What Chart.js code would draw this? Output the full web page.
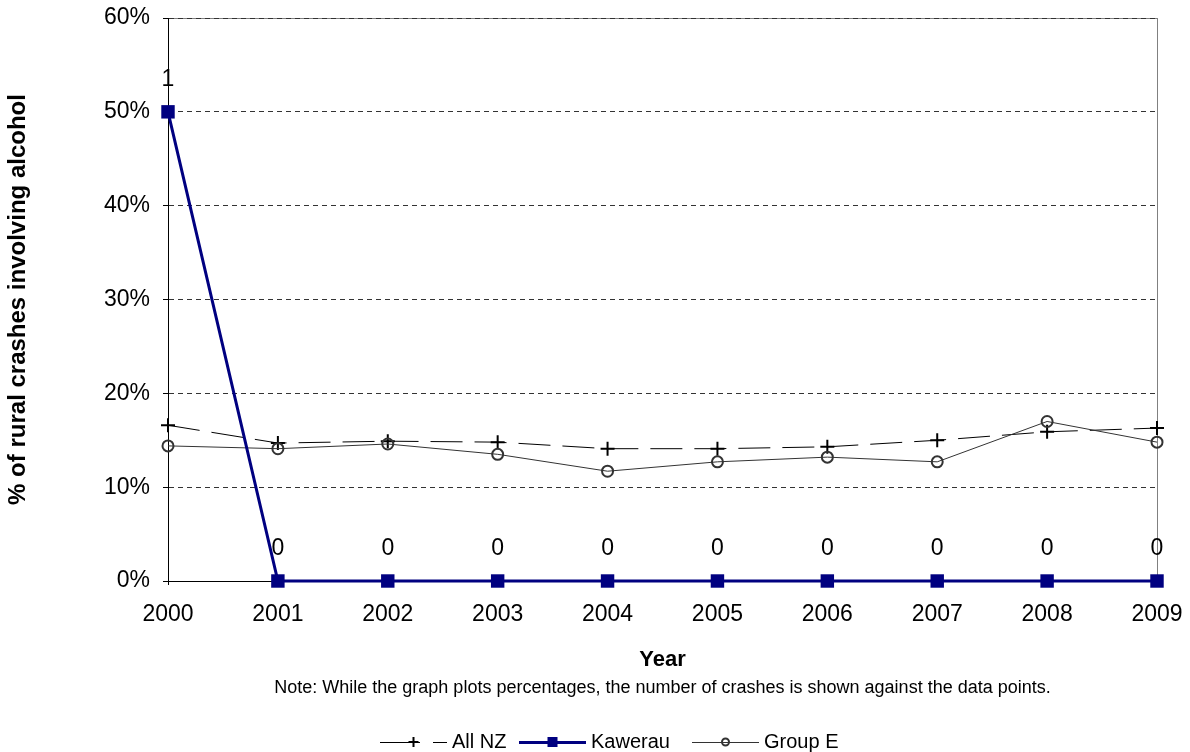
<!DOCTYPE html>
<html lang="en">
<head>
    <meta charset="UTF-8">
    <title>Rural crashes involving alcohol</title>
    <style>
        body {
            margin: 0;
            padding: 0;
            background-color: #ffffff;
        }
        canvas {
            display: block;
        }
    </style>
</head>
<body>
    <canvas id="myChart" width="1190" height="752"></canvas>

    <script src="https://cdn.jsdelivr.net/npm/chart.js"></script>
    <script>
        // Data
        const years = ['2000', '2001', '2002', '2003', '2004', '2005', '2006', '2007', '2008', '2009'];
        const allNZ = [16.6, 14.7, 14.9, 14.8, 14.1, 14.1, 14.3, 15.0, 15.9, 16.3];
        const kawerau = [50, 0, 0, 0, 0, 0, 0, 0, 0, 0];
        const groupE = [14.4, 14.1, 14.6, 13.5, 11.7, 12.7, 13.2, 12.7, 17.0, 14.8];
        const kawerauCounts = [1, 0, 0, 0, 0, 0, 0, 0, 0, 0];
        const yTicks = [0, 10, 20, 30, 40, 50, 60];

        const FONT = "'Liberation Sans', Arial, sans-serif";
        const NAVY = '#000080';

        // grey frame around the plot area
        const frame = {
            id: 'frame',
            beforeDraw(chart) {
                const { ctx, chartArea: a } = chart;
                ctx.save();
                ctx.strokeStyle = '#808080';
                ctx.lineWidth = 1;
                ctx.strokeRect(a.left + 0.5, a.top + 0.5, a.right - a.left, a.bottom - a.top);
                ctx.restore();
            }
        };

        // crash counts above the Kawerau points
        const counts = {
            id: 'counts',
            afterDatasetsDraw(chart) {
                const { ctx } = chart;
                const meta = chart.getDatasetMeta(1);
                ctx.save();
                ctx.font = '23px ' + FONT;
                ctx.fillStyle = '#000';
                ctx.textAlign = 'center';
                ctx.textBaseline = 'middle';
                meta.data.forEach((pt, i) => {
                    ctx.fillText(String(kawerauCounts[i]), pt.x, pt.y - 32);
                });
                ctx.restore();
            }
        };

        function drawMarker(ctx, style, x, y) {
            ctx.save();
            if (style === 'cross') {
                ctx.strokeStyle = '#000';
                ctx.lineWidth = 2;
                ctx.beginPath();
                ctx.moveTo(x - 5, y); ctx.lineTo(x + 5, y);
                ctx.moveTo(x, y - 5); ctx.lineTo(x, y + 5);
                ctx.stroke();
            } else if (style === 'rect') {
                ctx.fillStyle = NAVY;
                ctx.fillRect(x - 5, y - 5, 10, 10);
            } else {
                ctx.strokeStyle = '#333';
                ctx.lineWidth = 2;
                ctx.beginPath();
                ctx.arc(x, y, 3.5, 0, Math.PI * 2);
                ctx.stroke();
            }
            ctx.restore();
        }

        // note and legend below the axis title
        const footer = {
            id: 'footer',
            afterDraw(chart) {
                const { ctx, chartArea: a } = chart;
                ctx.save();
                ctx.fillStyle = '#000';
                ctx.font = '18px ' + FONT;
                ctx.textAlign = 'center';
                ctx.textBaseline = 'middle';
                ctx.fillText('Note: While the graph plots percentages, the number of crashes is shown against the data points.',
                    (a.left + a.right) / 2, 688);

                const y = 742;
                const starts = [380, 519, 692];
                const w = 67;
                ctx.font = '20px ' + FONT;
                ctx.textAlign = 'left';
                chart.data.datasets.forEach((ds, i) => {
                    const x = starts[i];
                    ctx.save();
                    ctx.strokeStyle = ds.borderColor;
                    ctx.lineWidth = ds.borderWidth;
                    ctx.setLineDash(ds.borderDash ? [40, 13, 14, 6] : []);
                    ctx.beginPath();
                    ctx.moveTo(x, y + 0.5);
                    ctx.lineTo(x + w, y + 0.5);
                    ctx.stroke();
                    ctx.restore();
                    drawMarker(ctx, ds.pointStyle, x + w / 2, y);
                    ctx.fillText(ds.label, x + w + 5, y);
                });
                ctx.restore();
            }
        };

        const ctx = document.getElementById('myChart').getContext('2d');

        const chart = new Chart(ctx, {
            type: 'line',
            data: {
                labels: years,
                datasets: [
                    {
                        label: 'All NZ',
                        data: allNZ,
                        borderColor: '#000',
                        borderWidth: 1,
                        borderDash: [32, 12],
                        pointStyle: 'cross',
                        pointRadius: 7,
                        pointBorderWidth: 2,
                        pointBorderColor: '#000',
                        clip: false,
                        order: 2
                    },
                    {
                        label: 'Kawerau',
                        data: kawerau,
                        borderColor: NAVY,
                        backgroundColor: NAVY,
                        borderWidth: 3,
                        pointStyle: 'rect',
                        pointRadius: 9.5,
                        pointBorderWidth: 0,
                        pointBackgroundColor: NAVY,
                        clip: false,
                        order: 0
                    },
                    {
                        label: 'Group E',
                        data: groupE,
                        borderColor: '#333',
                        borderWidth: 1,
                        pointStyle: 'circle',
                        pointRadius: 5.5,
                        pointBorderWidth: 2,
                        pointBorderColor: '#333',
                        pointBackgroundColor: 'rgba(0,0,0,0)',
                        clip: false,
                        order: 1
                    }
                ]
            },
            options: {
                responsive: false,
                animation: false,
                layout: { padding: { top: 18, right: 33, left: 0, bottom: 0 } },
                plugins: {
                    legend: { display: false },
                    tooltip: { enabled: false }
                },
                scales: {
                    x: {
                        type: 'category',
                        offset: false,
                        afterFit(scale) {
                            scale.height = 171;
                            scale.paddingLeft = 0;
                            scale.paddingRight = 0;
                        },
                        border: { color: '#000', width: 1 },
                        grid: {
                            drawOnChartArea: false,
                            drawTicks: true,
                            tickLength: 4,
                            tickColor: '#000'
                        },
                        ticks: {
                            color: '#000',
                            font: { family: FONT, size: 23 },
                            padding: 16,
                            maxRotation: 0,
                            autoSkip: false
                        },
                        title: {
                            display: true,
                            text: 'Year',
                            color: '#000',
                            font: { family: FONT, size: 22, weight: 'bold' },
                            padding: { top: 0, bottom: 79 }
                        }
                    },
                    y: {
                        min: 0,
                        max: 60,
                        afterFit(scale) {
                            scale.width = 168;
                            scale.paddingTop = 0;
                            scale.paddingBottom = 0;
                        },
                        afterBuildTicks(scale) { scale.ticks = yTicks.map(v => ({ value: v })); },
                        border: { color: '#000', width: 1, dash: [5, 4] },
                        grid: {
                            color: '#333',
                            tickLength: 5,
                            tickColor: '#000',
                            tickBorderDash: []
                        },
                        ticks: {
                            color: '#000',
                            font: { family: FONT, size: 23 },
                            padding: 13,
                            callback: v => v + '%'
                        },
                        title: {
                            display: true,
                            text: '% of rural crashes involving alcohol',
                            color: '#000',
                            font: { family: FONT, size: 24, weight: 'bold' },
                            padding: { top: 4, bottom: 0 }
                        }
                    }
                }
            },
            plugins: [frame, counts, footer]
        });
    </script>
</body>
</html>
